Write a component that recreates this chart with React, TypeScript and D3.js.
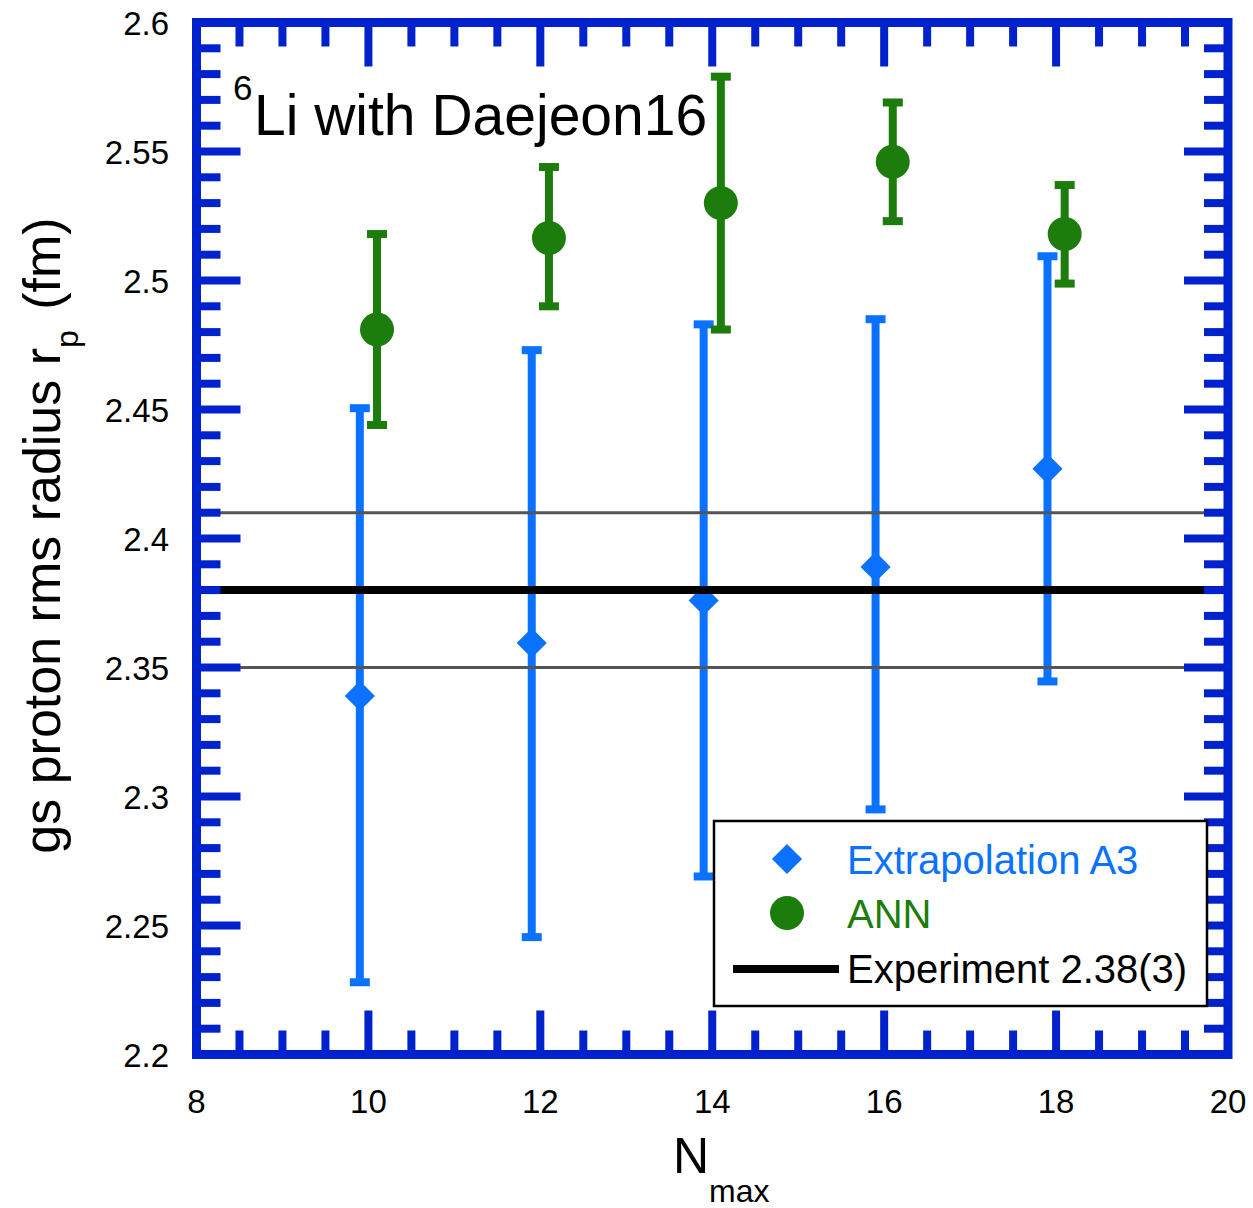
import React from "react";
import * as d3 from "d3";

// N_max values of the calculations
const nmax = [10, 12, 14, 16, 18];

// Extrapolation A3: central values and uncertainty bounds (fm)
const extrapA3 = [2.339, 2.3595, 2.376, 2.389, 2.427];
const extrapA3Lo = [2.228, 2.2455, 2.269, 2.295, 2.3446];
const extrapA3Hi = [2.4505, 2.473, 2.483, 2.485, 2.5094];

// ANN predictions: central values and uncertainty bounds (fm)
const ann = [2.481, 2.5165, 2.53, 2.546, 2.518];
const annLo = [2.444, 2.49, 2.481, 2.523, 2.4988];
const annHi = [2.518, 2.544, 2.579, 2.569, 2.537];

// Experimental value and its uncertainty
const expValue = 2.38;
const expErr = 0.03;

const xTickLabels = ["8", "10", "12", "14", "16", "18", "20"];
const yTickLabels = ["2.2", "2.25", "2.3", "2.35", "2.4", "2.45", "2.5", "2.55", "2.6"];

const W = 1253;
const H = 1208;
const FONT = "'Liberation Sans', Arial, Helvetica, sans-serif";
const FRAME = "#0022CC";
const BLUE = "#0A72FF";
const GREEN = "#1C7C0C";

export default function App() {
  const x = d3.scaleLinear().domain([8, 20]).range([196.5, 1228]);
  const y = d3.scaleLinear().domain([2.2, 2.6]).range([1054.5, 22.5]);
  const [x0, x1] = x.range();
  const [yb, yt] = y.range();

  // tick positions: x every 0.5 (major every 2), y every 0.01 (major every 0.05)
  const xTicks = d3.range(17, 40).map((k) => ({ v: k / 2, major: k % 4 === 0 }));
  const yTicks = d3.range(1, 40).map((k) => ({ v: 2.2 + k / 100, major: k % 5 === 0 }));
  const MAJ = 44;
  const MIN = 24;

  const dOff = 0.1; // horizontal separation of the two series around each N_max
  const diamond = d3.symbol().type(d3.symbolDiamond2).size(2 * 17 * 17)();
  const capW = 20;

  return (
    <svg
      width={W}
      height={H}
      viewBox={`0 0 ${W} ${H}`}
      style={{ position: "absolute", left: 0, top: 0, background: "#fff" }}
      fontFamily={FONT}
    >
      <rect x={0} y={0} width={W} height={H} fill="#fff" />

      {/* Extrapolation A3 error bars and diamonds */}
      {nmax.map((n, i) => {
        const cx = x(n - dOff);
        return (
          <g key={`a3-${n}`}>
            <line x1={cx} x2={cx} y1={y(extrapA3Lo[i])} y2={y(extrapA3Hi[i])} stroke={BLUE} strokeWidth={8} />
            <line x1={cx - capW / 2} x2={cx + capW / 2} y1={y(extrapA3Lo[i])} y2={y(extrapA3Lo[i])} stroke={BLUE} strokeWidth={8} />
            <line x1={cx - capW / 2} x2={cx + capW / 2} y1={y(extrapA3Hi[i])} y2={y(extrapA3Hi[i])} stroke={BLUE} strokeWidth={8} />
            <path d={diamond || ""} transform={`translate(${cx},${y(extrapA3[i])})`} fill={BLUE} />
          </g>
        );
      })}

      {/* ANN error bars and circles */}
      {nmax.map((n, i) => {
        const cx = x(n + dOff);
        return (
          <g key={`ann-${n}`}>
            <line x1={cx} x2={cx} y1={y(annLo[i])} y2={y(annHi[i])} stroke={GREEN} strokeWidth={8} />
            <line x1={cx - capW / 2} x2={cx + capW / 2} y1={y(annLo[i])} y2={y(annLo[i])} stroke={GREEN} strokeWidth={8} />
            <line x1={cx - capW / 2} x2={cx + capW / 2} y1={y(annHi[i])} y2={y(annHi[i])} stroke={GREEN} strokeWidth={8} />
            <circle cx={cx} cy={y(ann[i])} r={17} fill={GREEN} />
          </g>
        );
      })}

      {/* experimental band */}
      <line x1={x0} x2={x1} y1={y(expValue + expErr)} y2={y(expValue + expErr)} stroke="#555" strokeWidth={3} />
      <line x1={x0} x2={x1} y1={y(expValue - expErr)} y2={y(expValue - expErr)} stroke="#555" strokeWidth={3} />
      <line x1={x0} x2={x1} y1={y(expValue)} y2={y(expValue)} stroke="#000" strokeWidth={8} />

      {/* frame with inward ticks on all four sides */}
      <g stroke={FRAME} strokeWidth={8}>
        {xTicks.map((t) => (
          <g key={`xt-${t.v}`}>
            <line x1={x(t.v)} x2={x(t.v)} y1={yb} y2={yb - (t.major ? MAJ : MIN)} />
            <line x1={x(t.v)} x2={x(t.v)} y1={yt} y2={yt + (t.major ? MAJ : MIN)} />
          </g>
        ))}
        {yTicks.map((t) => (
          <g key={`yt-${t.v.toFixed(2)}`}>
            <line x1={x0} x2={x0 + (t.major ? MAJ : MIN)} y1={y(t.v)} y2={y(t.v)} />
            <line x1={x1} x2={x1 - (t.major ? MAJ : MIN)} y1={y(t.v)} y2={y(t.v)} />
          </g>
        ))}
      </g>
      <rect x={x0} y={yt} width={x1 - x0} height={yb - yt} fill="none" stroke={FRAME} strokeWidth={9} />

      {/* tick labels */}
      {xTickLabels.map((s) => (
        <text key={`xl-${s}`} x={x(+s)} y={1113} fontSize={33} textAnchor="middle" fill="#000">
          {s}
        </text>
      ))}
      {yTickLabels.map((s) => (
        <text key={`yl-${s}`} x={169} y={y(+s) + 12} fontSize={33} textAnchor="end" fill="#000">
          {s}
        </text>
      ))}

      {/* axis titles */}
      <text x={673} y={1173} fontSize={50} fill="#000">
        N
        <tspan fontSize={32} dy={29}>max</tspan>
      </text>
      <text
        transform={`translate(60,${(yt + yb) / 2 - 3}) rotate(-90)`}
        textAnchor="middle"
        fontSize={52}
        fill="#000"
      >
        gs proton rms radius r
        <tspan fontSize={32} dy={18}>p</tspan>
        <tspan dy={-18} dx={6}> (fm)</tspan>
      </text>

      {/* nucleus / interaction label */}
      <text x={233} y={100} fontSize={35} fill="#000">6</text>
      <text x={254} y={135} fontSize={57} fill="#000">Li with Daejeon16</text>

      {/* legend */}
      <g>
        <rect x={714} y={821} width={493} height={185} fill="#fff" stroke="#000" strokeWidth={2.5} />
        <path d={diamond || ""} transform="translate(787,859)" fill={BLUE} />
        <text x={847} y={874} fontSize={40} fill={BLUE}>Extrapolation A3</text>
        <circle cx={787} cy={913} r={17} fill={GREEN} />
        <text x={847} y={928} fontSize={40} fill={GREEN}>ANN</text>
        <line x1={733} x2={839} y1={969} y2={969} stroke="#000" strokeWidth={8} />
        <text x={847} y={983} fontSize={40} fill="#000">Experiment 2.38(3)</text>
      </g>
    </svg>
  );
}
